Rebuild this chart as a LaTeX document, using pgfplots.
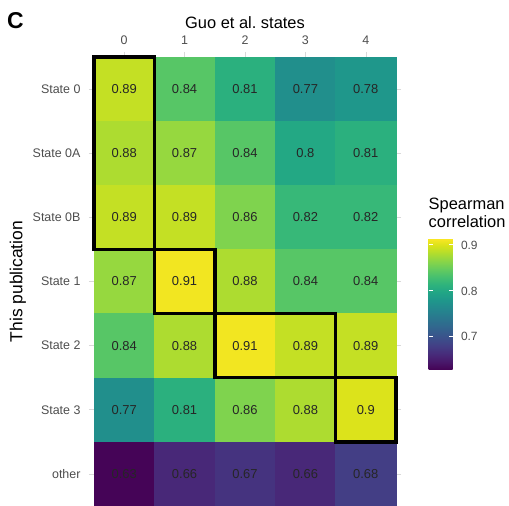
\documentclass[border=0pt]{standalone}
\usepackage{pgfplots}
\pgfplotsset{compat=1.18}
\usepackage{fontspec}
\setmainfont{Liberation Sans}
\definecolor{tickgray}{HTML}{4D4D4D}
\begin{document}
\begin{tikzpicture}
\useasboundingbox (-94bp,0) rectangle (415bp,506bp);
\begin{axis}[
 at={(0,0)}, anchor=south west,
 scale only axis, width=302bp, height=449bp,
 xmin=-0.5, xmax=4.5, ymin=-0.5, ymax=6.5,
 axis line style={draw=none},
 xtick={0,1,2,3,4}, ytick={0,...,6},
 yticklabels={other, State 3, State 2, State 1, State 0B, State 0A, State 0},
 xtick pos=right, xticklabel pos=right, ytick pos=both, yticklabel pos=left,
 tick align=outside, major tick length=5bp, tick style={gray!30, line width=0.6bp},
 ticklabel style={font=\fontsize{12.5}{14}\selectfont, text=tickgray},
 xticklabel style={yshift=4bp},
 yticklabel style={xshift=-5bp},
 xlabel={Guo et al.\ states}, ylabel={This publication},
 xlabel style={at={(ticklabel cs:0.5)}, anchor=near ticklabel, font=\fontsize{16.5}{18}\selectfont},
 ylabel style={at={(ticklabel cs:0.5)}, anchor=near ticklabel, font=\fontsize{17.5}{19}\selectfont},
 colormap/viridis, point meta min=0.628, point meta max=0.915,
 colorbar,
 colorbar/width=24bp,
 colorbar style={
   at={(parent axis.south east)}, anchor=south west, xshift=24bp, yshift=136bp,
   scale only axis, width=24bp, height=132bp,
   axis line style={draw=none},
   ytick={0.7,0.8,0.9}, ytick pos=both, yticklabel pos=right,
   tick align=inside, major tick length=4bp, tick style={white, line width=0.8bp},
   yticklabel style={font=\fontsize{12}{14}\selectfont, text=tickgray, xshift=5bp},
   /pgf/number format/assume math mode=true,
   title={Spearman\\correlation},
   title style={at={(0,1)}, anchor=south west, align=left, xshift=0bp, yshift=4bp, inner sep=0pt,
     font=\fontsize{16.5}{18.5}\selectfont},
 },
 /pgf/number format/assume math mode=true,
 clip=false,
]
\addplot[matrix plot*, mesh/cols=5, point meta=explicit,
  nodes near coords, nodes near coords align=center,
  every node near coord/.append style={font=\fontsize{13}{15}\selectfont, text=black!85}]
 table[meta=z] {
x y z
0 6 0.89
1 6 0.84
2 6 0.81
3 6 0.77
4 6 0.78
0 5 0.88
1 5 0.87
2 5 0.84
3 5 0.80
4 5 0.81
0 4 0.89
1 4 0.89
2 4 0.86
3 4 0.82
4 4 0.82
0 3 0.87
1 3 0.91
2 3 0.88
3 3 0.84
4 3 0.84
0 2 0.84
1 2 0.88
2 2 0.91
3 2 0.89
4 2 0.89
0 1 0.77
1 1 0.81
2 1 0.86
3 1 0.88
4 1 0.90
0 0 0.63
1 0 0.66
2 0 0.67
3 0 0.66
4 0 0.68
};
\draw[line width=3.5bp] (axis cs:-0.5,3.5) rectangle (axis cs:0.5,6.5);
\draw[line width=3.5bp] (axis cs:0.5,2.5) rectangle (axis cs:1.5,3.5);
\draw[line width=3.5bp] (axis cs:1.5,1.5) rectangle (axis cs:3.5,2.5);
\draw[line width=3.5bp] (axis cs:3.5,0.5) rectangle (axis cs:4.5,1.5);
\end{axis}
\node[anchor=north west, font=\fontsize{23}{23}\bfseries\selectfont, inner sep=0pt] at (-87bp,494bp) {C};
\end{tikzpicture}
\end{document}
